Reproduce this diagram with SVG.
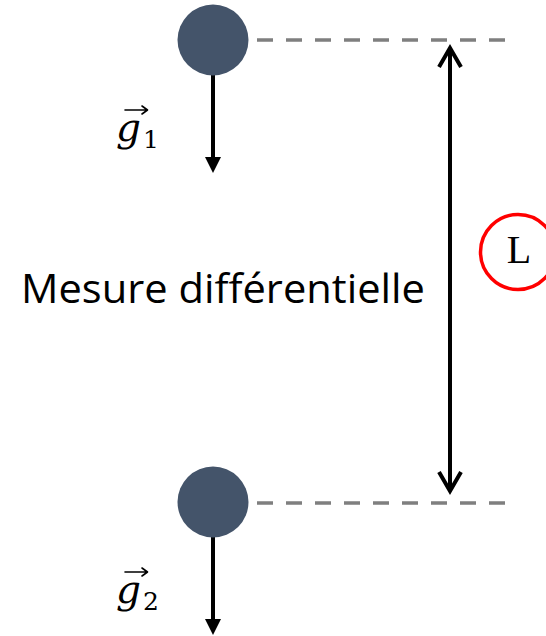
<svg xmlns="http://www.w3.org/2000/svg" width="546" height="636" viewBox="0 0 546 636">
<style>
.mass{fill:#44546A}
.dash{stroke:#7F7F7F;stroke-width:3.5;stroke-dasharray:16 13;fill:none}
.arr{stroke:#000;stroke-width:4;fill:none}
.head{fill:#000}
.acc{stroke:#000;stroke-width:1.6;fill:none;stroke-linecap:round;stroke-linejoin:round}
.math{font-family:"DejaVu Serif","Liberation Serif",serif;font-style:italic;fill:#000}
.sub{font-family:"DejaVu Serif","Liberation Serif",serif;font-style:normal}
.label{font-family:"Open Sans","Noto Sans",sans-serif;fill:#000}
</style>
<g id="connectors">
<line class="dash" x1="257" y1="40" x2="507" y2="40"/>
<line class="dash" x1="257" y1="503" x2="507" y2="503"/>
<line class="arr" x1="213" y1="74" x2="213" y2="160"/>
<polygon class="head" points="205,157 221,157 213,173"/>
<line class="arr" x1="213" y1="536" x2="213" y2="622"/>
<polygon class="head" points="205,619 221,619 213,635"/>
<line class="arr" x1="450" y1="48" x2="450" y2="491"/>
<polyline class="arr" points="439,67 450,48 461,67"/>
<polyline class="arr" points="439,472 450,491 461,472"/>
</g>
<g id="mass1">
<circle class="mass" cx="213" cy="40" r="35.5"/>
</g>
<g id="mass2">
<circle class="mass" cx="213" cy="502" r="35.5"/>
</g>
<g id="g1">
<path class="acc" d="M125 110H147M142 106L147.5 110L142 114"/>
<text class="math"><tspan x="116" y="141" font-size="39">g</tspan><tspan class="sub" x="143" y="148" font-size="25">1</tspan></text>
</g>
<g id="g2">
<path class="acc" d="M125 572H147M142 568L147.5 572L142 576"/>
<text class="math"><tspan x="116" y="603" font-size="39">g</tspan><tspan class="sub" x="143" y="610" font-size="25">2</tspan></text>
</g>
<g id="label">
<text class="label" x="21" y="303" font-size="41" textLength="404" lengthAdjust="spacingAndGlyphs">Mesure différentielle</text>
</g>
<g id="L">
<circle cx="518" cy="252" r="37.5" fill="none" stroke="#FF0000" stroke-width="3.5"/>
<text x="519" y="263" font-size="40" text-anchor="middle" font-family="Liberation Serif,Times New Roman,serif">L</text>
</g>
</svg>
